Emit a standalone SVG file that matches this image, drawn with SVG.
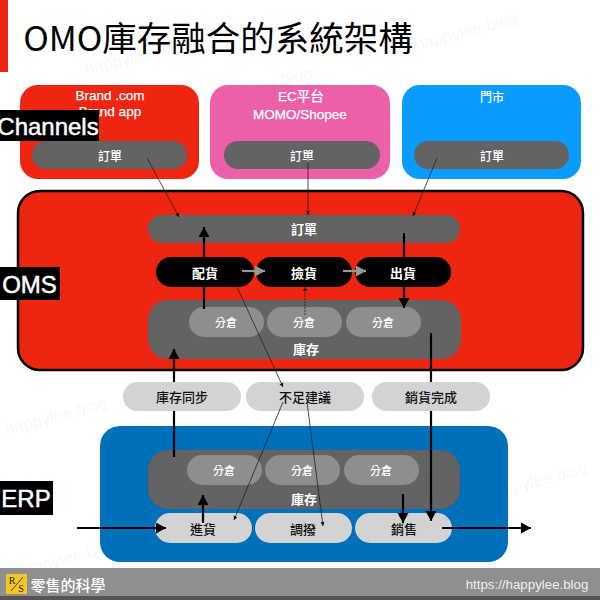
<svg xmlns="http://www.w3.org/2000/svg" width="600" height="600" viewBox="0 0 600 600">
<style>
text{font-family:"Noto Sans CJK TC","Liberation Sans",sans-serif;text-anchor:middle;dominant-baseline:central}
.w{fill:#fff;font-size:12px;font-weight:500}
.n{fill:#fff;font-size:13.500px;font-weight:400;font-family:"Liberation Sans","Noto Sans CJK TC",sans-serif;stroke:#fff;stroke-width:.25}
.b{fill:#fff;font-size:13px;font-weight:700}
.k{fill:#111;font-size:13px;font-weight:500}
.s{fill:#fff;font-size:11px;font-weight:500}
.g{fill:#636363}
.l{fill:#8e8e8e}
.p{fill:#d3d3d3}
.tag{fill:#000}
.tagt{fill:#fff;font-size:24px;font-family:"Liberation Sans",sans-serif;font-weight:400;stroke:#fff;stroke-width:.5}
.wm{fill:#000;fill-opacity:.05;font-size:17px;font-family:"Liberation Sans",sans-serif;text-anchor:start}
.t{stroke:#222;stroke-width:.8;fill:none;marker-end:url(#am)}
.h{stroke:#000;stroke-width:2.2;fill:none;marker-end:url(#ah)}
.h0{stroke:#000;stroke-width:2.2;fill:none}
.y{stroke:#999;stroke-width:2.2;fill:none;marker-end:url(#ay)}
</style>
<defs>
<marker id="ah" markerUnits="userSpaceOnUse" markerWidth="11" markerHeight="12" refX="10" refY="5.500" orient="auto"><path d="M0 0L10 5.500L0 11z" fill="#000"/></marker>
<marker id="ay" markerUnits="userSpaceOnUse" markerWidth="11" markerHeight="12" refX="10" refY="5.500" orient="auto"><path d="M0 0L10 5.500L0 11z" fill="#999"/></marker>
<marker id="am" markerUnits="userSpaceOnUse" markerWidth="5" markerHeight="5" refX="4" refY="2" orient="auto"><path d="M0 0L4 2L0 4z" fill="#111"/></marker>
</defs>
<rect width="600" height="600" fill="#fff"/>
<g id="title">
<rect x="0" y="0" width="8" height="72" fill="#ee2510"/>
<text x="218" y="36" style="font-size:34.500px;fill:#000;font-weight:400">OMO庫存融合的系統架構</text>
</g>
<g id="watermarks">
<text class="wm" transform="rotate(-15 415 45)" x="415" y="45">happylee.blog</text>
<text class="wm" transform="rotate(-15 85 70)" x="85" y="70">happylee.blog</text>
<text class="wm" transform="rotate(-15 210 100)" x="210" y="100">happylee.blog</text>
<text class="wm" transform="rotate(-15 5 430)" x="5" y="430">happylee.blog</text>
<text class="wm" transform="rotate(-15 490 130)" x="490" y="130">happylee.blog</text>
<text class="wm" transform="rotate(-15 485 495)" x="485" y="495">happylee.blog</text>
<text class="wm" transform="rotate(-15 15 572)" x="15" y="572">happylee.blog</text>
</g>
<g id="channel-brand">
<rect x="20" y="85" width="179" height="94" rx="18" fill="#ee2510"/>
<text class="n" x="110" y="95">Brand .com</text>
<text class="n" x="110" y="111">Brand app</text>
<rect class="g" x="32" y="141" width="155" height="28" rx="14"/>
<text class="w" x="110" y="155">訂單</text>
</g>
<g id="channel-ec">
<rect x="210" y="85" width="180" height="94" rx="18" fill="#ec5fa9"/>
<text class="n" x="301" y="96">EC平台</text>
<text class="n" x="300" y="114">MOMO/Shopee</text>
<rect class="g" x="224" y="141" width="156" height="28" rx="14"/>
<text class="w" x="302" y="155">訂單</text>
</g>
<g id="channel-store">
<rect x="402" y="85" width="179" height="94" rx="18" fill="#0a9bff"/>
<text class="w" x="492" y="96">門市</text>
<rect class="g" x="414" y="141" width="155" height="28" rx="14"/>
<text class="w" x="492" y="155">訂單</text>
</g>
<g id="label-channels">
<rect class="tag" x="0" y="110" width="99" height="31"/>
<text class="tagt" x="48" y="126">Channels</text>
</g>
<g id="oms">
<rect x="18" y="191" width="565" height="179" rx="22" fill="#ee2510" stroke="#000" stroke-width="2.500"/>
</g>
<g id="label-oms">
<rect class="tag" x="0" y="267" width="60" height="33"/>
<text class="tagt" x="29.500" y="284">OMS</text>
</g>
<g id="oms-orders">
<rect class="g" x="148" y="215" width="312" height="28" rx="14"/>
<text class="b" x="304" y="228">訂單</text>
</g>
<g id="oms-stock">
<rect class="g" x="148" y="300" width="313" height="59" rx="20"/>
<text class="b" x="306" y="348">庫存</text>
</g>
<g id="oms-wh1"><rect class="l" x="189" y="307" width="75" height="30" rx="15"/><text class="s" x="226" y="322">分倉</text></g>
<g id="oms-wh2"><rect class="l" x="267" y="307" width="75" height="30" rx="15"/><text class="s" x="304" y="322">分倉</text></g>
<g id="oms-wh3"><rect class="l" x="346" y="307" width="75" height="30" rx="15"/><text class="s" x="383" y="322">分倉</text></g>
<g id="erp">
<rect x="100" y="426" width="408" height="136" rx="20" fill="#0070bb"/>
</g>
<g id="label-erp">
<rect class="tag" x="0" y="481" width="53" height="34"/>
<text class="tagt" x="26" y="498">ERP</text>
</g>
<g id="erp-stock">
<rect class="g" x="148" y="450" width="312" height="59" rx="20"/>
<text class="b" x="304" y="498">庫存</text>
</g>
<g id="erp-wh1"><rect class="l" x="187" y="455" width="75" height="30" rx="15"/><text class="s" x="224" y="470">分倉</text></g>
<g id="erp-wh2"><rect class="l" x="265" y="455" width="75" height="30" rx="15"/><text class="s" x="302" y="470">分倉</text></g>
<g id="erp-wh3"><rect class="l" x="344" y="455" width="75" height="30" rx="15"/><text class="s" x="381" y="470">分倉</text></g>
<g id="connectors-under">
<path class="h" d="M174 457V349"/>
<path class="h0" d="M431 333V500"/>
</g>
<g id="sync-stock"><rect class="p" x="123" y="382" width="118" height="29" rx="14.500"/><text class="k" x="182" y="396">庫存同步</text></g>
<g id="sync-short"><rect class="p" x="246" y="382" width="118" height="29" rx="14.500"/><text class="k" x="305" y="396">不足建議</text></g>
<g id="sync-sold"><rect class="p" x="372" y="382" width="118" height="29" rx="14.500"/><text class="k" x="431" y="396">銷貨完成</text></g>
<g id="erp-in"><rect class="p" x="155" y="513" width="97" height="30" rx="15"/><text class="k" x="203" y="528">進貨</text></g>
<g id="erp-transfer"><rect class="p" x="255" y="513" width="97" height="30" rx="15"/><text class="k" x="303" y="528">調撥</text></g>
<g id="erp-sale"><rect class="p" x="355" y="513" width="97" height="30" rx="15"/><text class="k" x="404" y="528">銷售</text></g>
<g id="connectors">
<path class="h" d="M431 495V521"/>
<path class="h" d="M204 309V227"/>
<path class="t" d="M147 158L179 217"/>
<path class="t" d="M308 158V215"/>
<path class="t" d="M437 158L413 216"/>
<path class="t" d="M305 315V287" stroke-dasharray="2 1"/>
<path class="t" d="M237 287L283 387"/>
<path class="t" d="M283 402L234 520"/>
<path class="t" d="M307 402L323 526"/>
<path class="h" d="M203 523V495"/>
<path class="h" d="M403 494V523"/>
<path class="h" d="M77 528H166"/>
<path class="h" d="M442 528H531"/>
</g>
<g id="oms-allocate"><rect class="tag" x="156" y="257" width="98" height="30" rx="15"/><text class="b" x="205" y="272">配貨</text></g>
<g id="oms-pick"><rect class="tag" x="256" y="257" width="96" height="30" rx="15"/><text class="b" x="304" y="272">撿貨</text></g>
<g id="oms-ship"><rect class="tag" x="355" y="257" width="96" height="30" rx="15"/><text class="b" x="403" y="272">出貨</text></g>
<g id="connectors-top">
<path class="h0" d="M404 233V257"/>
<path class="h" d="M404 287V308"/>
<path class="y" d="M242 271H265"/>
<path class="y" d="M343 271H366"/>
</g>
<g id="footer">
<rect x="0" y="568" width="600" height="28" fill="#8f8f8f"/>
<rect x="0" y="596" width="600" height="4" fill="#555"/>
<rect x="6" y="574" width="21" height="20" fill="#f4c824"/>
<text x="12" y="580" style="font-size:10px;fill:#222;font-family:'Liberation Serif',serif">R</text>
<path d="M11 591L23 577" stroke="#222" stroke-width=".8"/>
<text x="21" y="588" style="font-size:10px;fill:#222;font-family:'Liberation Serif',serif">S</text>
<text x="68" y="584" style="font-size:15px;fill:#fff;font-weight:500">零售的科學</text>
<text x="527" y="584" style="font-size:13.300px;fill:#eee;font-family:'Liberation Sans',sans-serif">https://happylee.blog</text>
</g>
</svg>
